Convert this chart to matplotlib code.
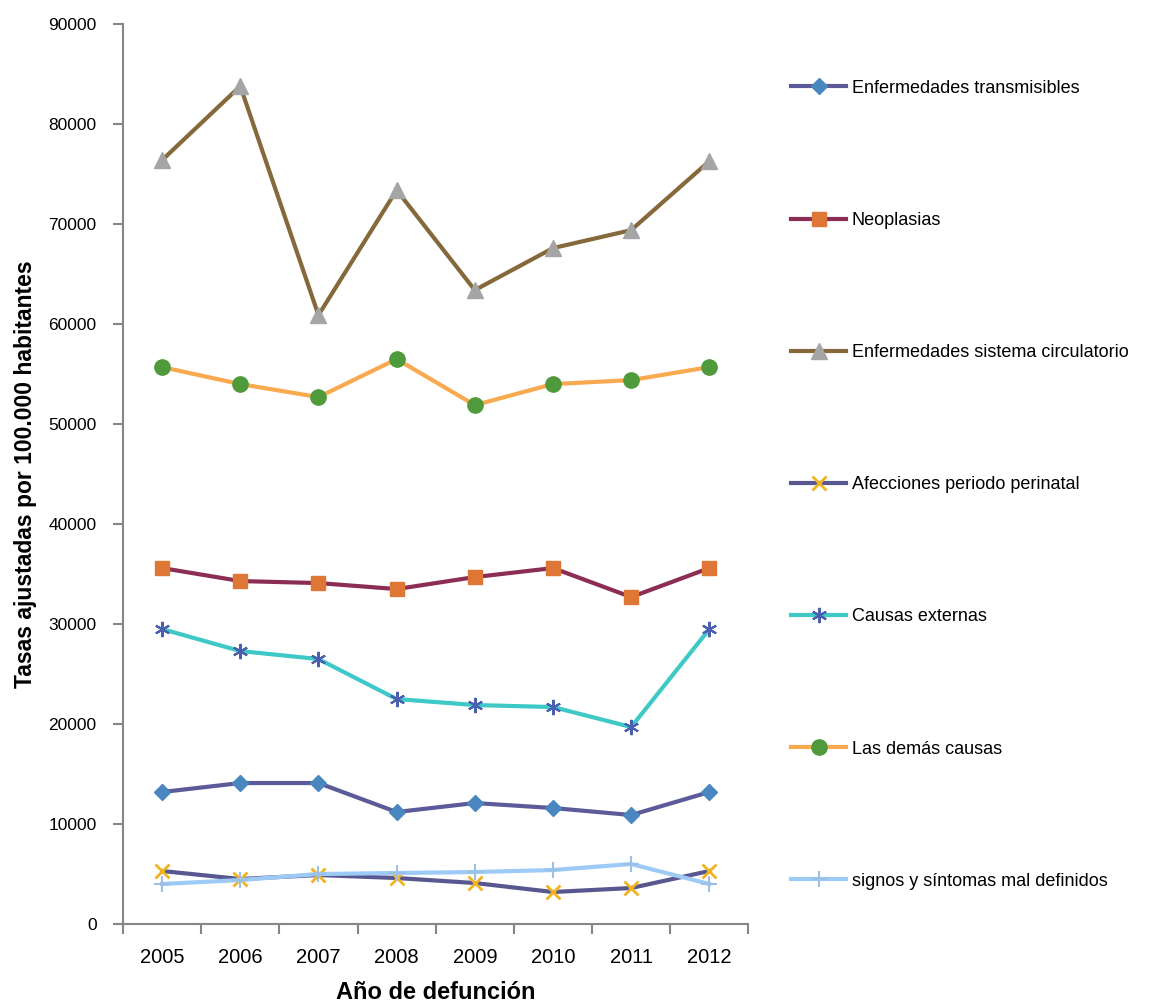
import matplotlib
matplotlib.use("Agg")
from matplotlib import pyplot as plt
from matplotlib.ticker import MultipleLocator, FixedLocator

plt.rcParams['font.family'] = ['Liberation Sans', 'DejaVu Sans']

# Data
years = [2005, 2006, 2007, 2008, 2009, 2010, 2011, 2012]
transmisibles = [13200, 14100, 14100, 11200, 12100, 11600, 10900, 13200]
neoplasias = [35600, 34300, 34100, 33500, 34700, 35600, 32700, 35600]
circulatorio = [76400, 83800, 60900, 73400, 63400, 67600, 69400, 76300]
perinatal = [5300, 4500, 4900, 4600, 4100, 3200, 3600, 5300]
externas = [29500, 27300, 26500, 22500, 21900, 21700, 19700, 29500]
demas = [55700, 54000, 52700, 56500, 51900, 54000, 54400, 55700]
signos = [4000, 4400, 5000, 5100, 5200, 5400, 6000, 4000]

labels = ["Enfermedades transmisibles", "Neoplasias",
          "Enfermedades sistema circulatorio", "Afecciones periodo perinatal",
          "Causas externas", "Las demás causas",
          "signos y síntomas mal definidos"]

fig = plt.figure(figsize=(11.55, 10.06), dpi=100)
ax = fig.add_axes([0.1065, 0.0815, 0.5415, 0.8945])

lw = 3
ax.plot(years, transmisibles, color='#5c5b99', lw=lw, marker='D', ms=8,
        mfc='#4a86c0', mec='#4a86c0', label=labels[0])
ax.plot(years, neoplasias, color='#8c2d55', lw=lw, marker='s', ms=10,
        mfc='#de7636', mec='#de7636', label=labels[1])
ax.plot(years, circulatorio, color='#86693a', lw=lw, marker='^', ms=11,
        mfc='#a5a5a5', mec='#a5a5a5', label=labels[2])
ax.plot(years, perinatal, color='#58578f', lw=lw, marker='x', ms=10, mew=2,
        mec='#f1b420', label=labels[3])
ax.plot(years, externas, color='#3ec9c7', lw=lw, marker=(6, 2, 0), ms=11, mew=1.5,
        mec='#4b5fb0', label=labels[4])
ax.plot(years, demas, color='#f9aa50', lw=lw, marker='o', ms=11,
        mfc='#4f9a3a', mec='#4f9a3a', label=labels[5])
ax.plot(years, signos, color='#9dcbf6', lw=lw, marker='+', ms=12, mew=1.5,
        mec='#9cbfe6', label=labels[6])

ax.set_xlim(2004.5, 2012.5)
ax.set_ylim(0, 90000)
ax.yaxis.set_major_locator(MultipleLocator(10000))
ax.set_xticks(years)
ax.xaxis.set_minor_locator(FixedLocator([y - 0.5 for y in years] + [2012.5]))
ax.tick_params(axis='x', which='major', length=0, labelsize=14.5, pad=17)
ax.tick_params(axis='x', which='minor', length=7, color='#868686', width=1.5)
ax.tick_params(axis='y', length=7, color='#868686', width=1.5, labelsize=12.5, pad=12)

for s in ['top', 'right']:
    ax.spines[s].set_visible(False)
for s in ['left', 'bottom']:
    ax.spines[s].set_color('#868686')
    ax.spines[s].set_linewidth(1.5)

ax.set_ylabel("Tasas ajustadas por 100.000 habitantes", fontsize=16.5,
              fontweight='bold', labelpad=8)
ax.set_xlabel("Año de defunción", fontsize=17, fontweight='bold', labelpad=10)

ax.legend(loc='upper left', bbox_to_anchor=(0.671, 0.937), bbox_transform=fig.transFigure,
          frameon=False, fontsize=13, labelspacing=6.38, handlelength=3.05,
          handletextpad=0.3)

plt.savefig('out.png', dpi=100)
